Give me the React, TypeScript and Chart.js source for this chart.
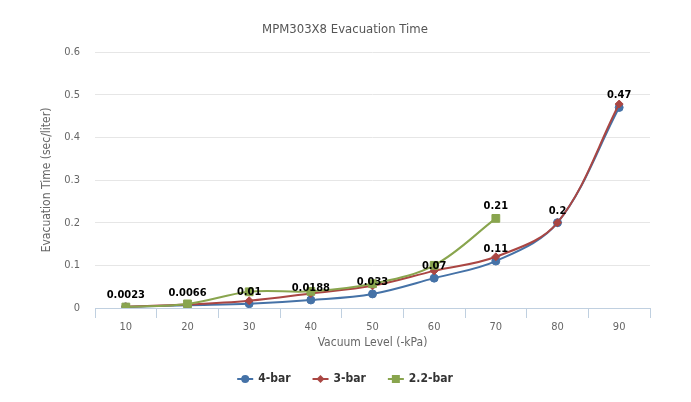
import { useEffect, useRef } from "react";
import { Chart, registerables } from "chart.js";
Chart.register(...registerables);

const categories = ["10", "20", "30", "40", "50", "60", "70", "80", "90"];
const bar4 = [0.0023, 0.0066, 0.01, 0.0188, 0.033, 0.07, 0.11, 0.2, 0.47];
const bar3 = [0.003, 0.008, 0.017, 0.034, 0.052, 0.087, 0.12, 0.2, 0.478];
const bar22 = [0.0023, 0.0096, 0.038, 0.039, 0.057, 0.1, 0.21, null, null];
const bar4Labels = ["0.0023", "0.0066", "0.01", "0.0188", "0.033", "0.07", "0.11", "0.2", "0.47"];
const bar22Labels = [null, null, null, null, null, null, "0.21", null, null];
const seriesNames = ["4-bar", "3-bar", "2.2-bar"];
const yTicks = [0, 0.1, 0.2, 0.3, 0.4, 0.5, 0.6];

const COLORS = ["#4572A7", "#AA4643", "#89A54E"];
const STYLES = ["circle", "rectRot", "rect"];
const RADII = [4, 4, 5.5];
const FONT = "'DejaVu Sans Condensed', 'DejaVu Sans', sans-serif";

export default function App() {
  const ref = useRef<HTMLCanvasElement | null>(null);
  useEffect(() => {
    document.body.style.margin = "0";
    const canvas = ref.current!;
    const labelPlugin = {
      id: "extras",
      afterDatasetsDraw(chart: any) {
        const ctx = chart.ctx;
        ctx.save();
        ctx.font = `bold 11px ${FONT}`;
        ctx.fillStyle = "#000";
        ctx.textAlign = "center";
        ctx.textBaseline = "middle";
        const sets: [number, (string | null)[]][] = [
          [0, bar4Labels],
          [2, bar22Labels],
        ];
        for (const [di, labs] of sets) {
          const meta = chart.getDatasetMeta(di);
          labs.forEach((t, i) => {
            if (!t) return;
            const p = meta.data[i];
            ctx.fillText(t, p.x, p.y - 12);
          });
        }
        ctx.restore();
      },
      afterDraw(chart: any) {
        const ctx = chart.ctx;
        const area = chart.chartArea;
        ctx.save();
        // title
        ctx.font = `13px ${FONT}`;
        ctx.fillStyle = "#555";
        ctx.textAlign = "center";
        ctx.textBaseline = "middle";
        ctx.fillText("MPM303X8 Evacuation Time", 345, 30);
        // x title
        ctx.font = `12px ${FONT}`;
        ctx.fillStyle = "#666";
        ctx.fillText("Vacuum Level (-kPa)", (area.left + area.right) / 2, 343);
        // y title
        ctx.save();
        ctx.translate(47, (area.top + area.bottom) / 2);
        ctx.rotate(-Math.PI / 2);
        ctx.fillText("Evacuation Time (sec/liter)", 0, 0);
        ctx.restore();
        // legend
        ctx.font = `bold 12px ${FONT}`;
        const symW = 16;
        const gap = 5;
        const spacing = 22;
        const widths = seriesNames.map((n) => symW + gap + ctx.measureText(n).width);
        const total = widths.reduce((a, b) => a + b, 0) + spacing * (widths.length - 1);
        let x = 345 - total / 2;
        const y = 379;
        seriesNames.forEach((n, i) => {
          ctx.strokeStyle = COLORS[i];
          ctx.lineWidth = 2;
          ctx.beginPath();
          ctx.moveTo(x, y);
          ctx.lineTo(x + symW, y);
          ctx.stroke();
          ctx.fillStyle = COLORS[i];
          ctx.strokeStyle = COLORS[i];
          ctx.lineWidth = 1;
          (Chart as any).helpers?.drawPoint;
          const cx = x + symW / 2;
          ctx.beginPath();
          if (STYLES[i] === "circle") {
            ctx.arc(cx, y, 4, 0, Math.PI * 2);
          } else if (STYLES[i] === "rectRot") {
            ctx.moveTo(cx, y - 4);
            ctx.lineTo(cx + 4, y);
            ctx.lineTo(cx, y + 4);
            ctx.lineTo(cx - 4, y);
            ctx.closePath();
          } else {
            ctx.rect(cx - 4, y - 4, 8, 8);
          }
          ctx.fill();
          ctx.fillStyle = "#333";
          ctx.textAlign = "left";
          ctx.textBaseline = "middle";
          ctx.fillText(n, x + symW + gap, y);
          x += widths[i] + spacing;
        });
        ctx.restore();
      },
    };

    const data = [bar4, bar3, bar22];
    const chart = new Chart(canvas, {
      type: "line",
      data: {
        labels: categories,
        datasets: data.map((d, i) => ({
          label: seriesNames[i],
          data: d as any,
          borderColor: COLORS[i],
          backgroundColor: COLORS[i],
          borderWidth: 2,
          pointStyle: STYLES[i] as any,
          pointRadius: RADII[i],
          pointBorderWidth: 1,
          tension: 0.35,
          fill: false,
          order: 2 - i,
        })),
      },
      options: {
        animation: false,
        responsive: false,
        layout: { padding: { left: 0, right: 41, top: 52, bottom: 0 } },
        plugins: { legend: { display: false }, title: { display: false }, tooltip: { enabled: false } },
        scales: {
          x: {
            offset: true,
            afterFit: (s: any) => {
              s.height = 94;
            },
            grid: {
              offset: true,
              drawOnChartArea: false,
              drawTicks: true,
              tickLength: 10,
              color: "#C0D0E0",
            },
            border: { display: true, color: "#C0D0E0", width: 1 },
            ticks: { color: "#666", font: { size: 11, family: FONT }, padding: 3, maxRotation: 0 },
          },
          y: {
            min: 0,
            max: 0.6,
            afterFit: (s: any) => {
              s.width = 95;
            },
            afterBuildTicks: (s: any) => {
              s.ticks = yTicks.map((v) => ({ value: v }));
            },
            grid: { color: "#E6E6E6", drawTicks: false },
            border: { display: false },
            ticks: {
              color: "#666",
              font: { size: 11, family: FONT },
              padding: 15,
              callback: (v: any) => String(Math.round(v * 10) / 10),
            },
          },
        },
      },
      plugins: [labelPlugin],
    });
    return () => chart.destroy();
  }, []);
  return (
    <div style={{ width: 691, height: 402 }}>
      <canvas ref={ref} width={691} height={402} style={{ display: "block" }} />
    </div>
  );
}
